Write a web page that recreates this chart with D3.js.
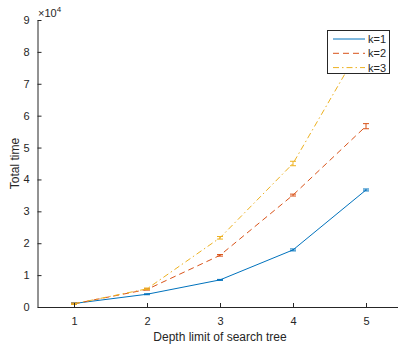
<!DOCTYPE html>
<html>
<head>
<meta charset="utf-8">
<script src="https://cdn.jsdelivr.net/npm/d3@7"></script>
<style>
  html, body { margin: 0; padding: 0; background: #fff; }
  svg { display: block; font-family: "Liberation Sans", Arial, Helvetica, sans-serif; }
</style>
</head>
<body>
<svg id="chart" width="398" height="349"></svg>
<script>
// Depth limits on the x axis
const depths = [1, 2, 3, 4, 5];
// Mean total time per depth, one series per k
const k1Time = [1100, 4000, 8500, 17900, 36700];
const k2Time = [1000, 5500, 16200, 35100, 56700];
const k3Time = [1000, 5700, 21700, 45000, 84500];
// Half-width of each error bar
const k1Err = [200, 150, 150, 300, 300];
const k2Err = [200, 200, 250, 300, 800];
const k3Err = [200, 250, 400, 700, 1200];
// Series labels and y tick values
const seriesNames = ["k=1", "k=2", "k=3"];
const yTicks = [0, 10000, 20000, 30000, 40000, 50000, 60000, 70000, 80000, 90000];

const series = [
  { name: seriesNames[0], values: k1Time, err: k1Err, color: "#0072BD", dash: null },
  { name: seriesNames[1], values: k2Time, err: k2Err, color: "#D95319", dash: "6,4" },
  { name: seriesNames[2], values: k3Time, err: k3Err, color: "#EDB120", dash: "6,3,1.5,3" }
];

const svg = d3.select("#chart");
const axisColor = "#262626";

const x = d3.scaleLinear().domain([0.5, 5.5]).range([37.5, 402.5]);
const y = d3.scaleLinear().domain([0, 90000]).range([307, 20]);

// Series lines and error bars
const line = d3.line().x((d, i) => x(depths[i])).y(d => y(d));
const capW = 3;
series.forEach(s => {
  const g = svg.append("g");
  g.append("path")
    .datum(s.values)
    .attr("d", line)
    .attr("fill", "none")
    .attr("stroke", s.color)
    .attr("stroke-width", 1)
    .attr("stroke-dasharray", s.dash);
  s.values.forEach((v, i) => {
    const cx = x(depths[i]);
    const lo = y(v - s.err[i]), hi = y(v + s.err[i]);
    g.append("path")
      .attr("d", `M${cx},${lo}V${hi}M${cx - capW},${lo}H${cx + capW}M${cx - capW},${hi}H${cx + capW}`)
      .attr("fill", "none")
      .attr("stroke", s.color)
      .attr("stroke-width", 1);
  });
});

// Y axis (ticks point inward)
const yAxis = d3.axisLeft(y).tickValues(yTicks).tickFormat(d => d / 10000)
  .tickSizeInner(-4).tickSizeOuter(0).tickPadding(8);
const gy = svg.append("g").attr("transform", "translate(37.5,0)").call(yAxis);
gy.select(".domain").attr("stroke", axisColor);
gy.selectAll(".tick line").attr("stroke", axisColor);
gy.selectAll(".tick text").attr("fill", axisColor).attr("font-size", 11)
  .attr("font-family", "Liberation Sans, Arial, sans-serif");

// X axis
const xAxis = d3.axisBottom(x).tickValues(depths).tickFormat(d3.format("d"))
  .tickSizeInner(-4).tickSizeOuter(0).tickPadding(10);
const gx = svg.append("g").attr("transform", "translate(0,307)").call(xAxis);
gx.select(".domain").attr("stroke", axisColor);
gx.selectAll(".tick line").attr("stroke", axisColor);
gx.selectAll(".tick text").attr("fill", axisColor).attr("font-size", 11)
  .attr("font-family", "Liberation Sans, Arial, sans-serif");

// Exponent label
const expo = svg.append("text").attr("x", 38).attr("y", 17).attr("fill", axisColor)
  .attr("font-size", 11);
expo.append("tspan").text("\u00d710");
expo.append("tspan").attr("dy", -5).attr("font-size", 8).text("4");

// Axis titles
svg.append("text").attr("x", 220).attr("y", 341).attr("text-anchor", "middle")
  .attr("fill", axisColor).attr("font-size", 12).text("Depth limit of search tree");
svg.append("text").attr("transform", "translate(19,163.5) rotate(-90)")
  .attr("text-anchor", "middle").attr("fill", axisColor).attr("font-size", 12)
  .text("Total time");

// Legend
const lg = svg.append("g");
lg.append("rect").attr("x", 327.5).attr("y", 30.5).attr("width", 62).attr("height", 43)
  .attr("fill", "#fff").attr("stroke", axisColor).attr("stroke-width", 1);
series.forEach((s, i) => {
  const ly = 39 + i * 14.3;
  lg.append("line").attr("x1", 333).attr("x2", 365).attr("y1", ly).attr("y2", ly)
    .attr("stroke", s.color).attr("stroke-width", 1).attr("stroke-dasharray", s.dash);
  lg.append("text").attr("x", 368).attr("y", ly + 4).attr("fill", axisColor)
    .attr("font-size", 11).text(s.name);
});
</script>
</body>
</html>
